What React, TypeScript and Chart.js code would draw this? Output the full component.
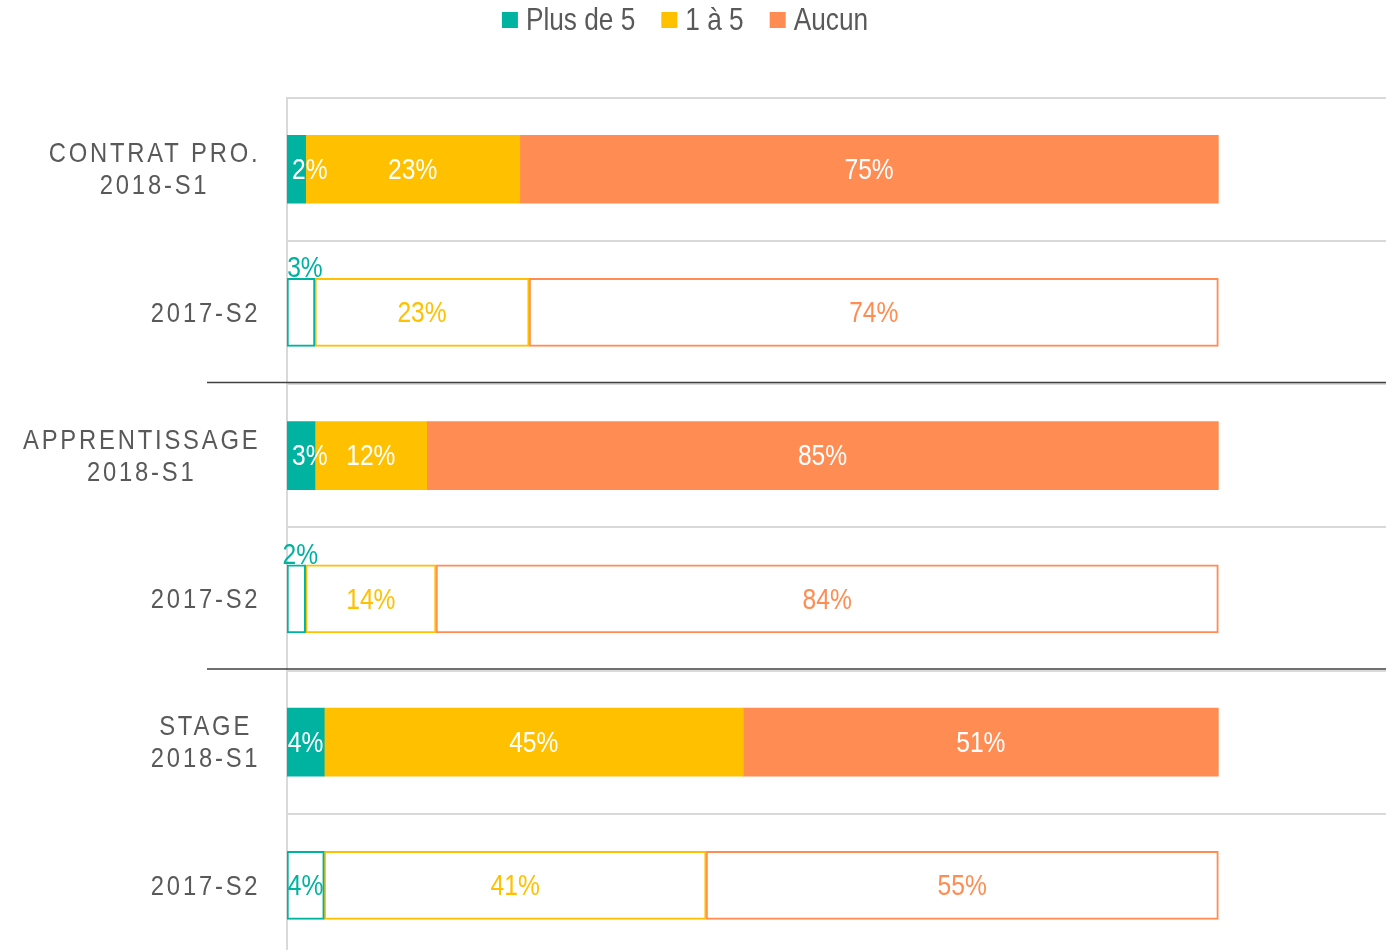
import React, { useEffect, useRef } from "react";
import { Chart, registerables } from "chart.js";

Chart.register(...registerables);

// ---- data ----
const categories: string[][] = [
  ["CONTRAT PRO.", "2018-S1"],
  ["2017-S2"],
  ["APPRENTISSAGE", "2018-S1"],
  ["2017-S2"],
  ["STAGE", "2018-S1"],
  ["2017-S2"],
];
const currentPeriod = "2018-S1";
const seriesNames = ["Plus de 5", "1 à 5", "Aucun"];
const plusDe5 = [2, 3, 3, 2, 4, 4];
const unACinq = [23, 23, 12, 14, 45, 41];
const aucun = [75, 74, 85, 84, 51, 55];
const seriesColors = ["#00B2A0", "#FFC000", "#FF8C52"];

const TEXT = "#595959";
const FONT = "'Liberation Sans', Arial, sans-serif";
const SX = 0.82; // narrow rendering
const SX_AXIS = 0.85;

const filled = categories.map((c) => c[c.length - 1] === currentPeriod);

function measure(ctx: CanvasRenderingContext2D, t: string, sx = SX) {
  return ctx.measureText(t).width * sx;
}
function drawNarrow(ctx: CanvasRenderingContext2D, t: string, x: number, y: number, align: CanvasTextAlign, sx = SX) {
  ctx.save();
  ctx.translate(x, y);
  ctx.scale(sx, 1);
  ctx.textAlign = align;
  ctx.fillText(t, 0, 0);
  ctx.restore();
}

const labelsPlugin = {
  id: "segLabels",
  afterDatasetsDraw(chart: any) {
    const ctx = chart.ctx as CanvasRenderingContext2D;
    ctx.save();
    ctx.font = `30px ${FONT}`;
    chart.data.datasets.forEach((ds: any, i: number) => {
      const meta = chart.getDatasetMeta(i);
      meta.data.forEach((bar: any, j: number) => {
        const p = bar.getProps(["x", "base", "y", "height"], true);
        const left = Math.min(p.x, p.base);
        const right = Math.max(p.x, p.base);
        const w = right - left;
        const text = `${ds.data[j]}%`;
        const tw = measure(ctx, text);
        let cx = (left + right) / 2;
        if (filled[j]) {
          ctx.fillStyle = "#ffffff";
          if (tw > w + 1) cx = left + tw / 2 + 5;
          ctx.textBaseline = "middle";
          drawNarrow(ctx, text, cx, p.y + 1.5, "center");
        } else {
          ctx.fillStyle = seriesColors[i];
          if (tw > w + 4) {
            ctx.textBaseline = "alphabetic";
            drawNarrow(ctx, text, cx + 4, p.y - p.height / 2 - 1, "center");
          } else {
            ctx.textBaseline = "middle";
            drawNarrow(ctx, text, cx, p.y + 1.5, "center");
          }
        }
      });
    });
    ctx.restore();
  },
};

const decorPlugin = {
  id: "decor",
  afterDraw(chart: any) {
    const ctx = chart.ctx as CanvasRenderingContext2D;
    const area = chart.chartArea;
    const y = chart.scales.y;
    ctx.save();
    // group separators
    ctx.strokeStyle = "#404040";
    ctx.lineWidth = 1.5;
    [1, 3].forEach((i) => {
      const yy = (y.getPixelForValue(i) + y.getPixelForValue(i + 1)) / 2 - 1.5;
      ctx.beginPath();
      ctx.moveTo(207, yy);
      ctx.lineTo(area.right, yy);
      ctx.stroke();
    });
    // category labels
    ctx.font = `28px ${FONT}`;
    (ctx as any).letterSpacing = `${2.8 / SX_AXIS}px`;
    ctx.fillStyle = TEXT;
    ctx.textBaseline = "middle";
    categories.forEach((lines, i) => {
      const yc = y.getPixelForValue(i);
      const maxW = Math.max(...lines.map((l) => measure(ctx, l, SX_AXIS)));
      const cx = 259 - maxW / 2;
      lines.forEach((l, k) => {
        drawNarrow(ctx, l, cx + 1.4, yc + 1.5 + (k - (lines.length - 1) / 2) * 32, "center", SX_AXIS);
      });
    });
    (ctx as any).letterSpacing = "0px";
    // legend
    ctx.font = `32px ${FONT}`;
    const box = 16;
    const gap = 8;
    const itemGap = 26;
    const widths = chart.data.datasets.map((d: any) => measure(ctx, d.label));
    const total = widths.reduce((a: number, b: number) => a + b + box + gap, 0) + itemGap * (widths.length - 1);
    let x = 685 - total / 2;
    chart.data.datasets.forEach((d: any, i: number) => {
      ctx.fillStyle = seriesColors[i];
      ctx.fillRect(x, 12, box, box);
      ctx.fillStyle = TEXT;
      drawNarrow(ctx, d.label, x + box + gap, 21, "left");
      x += box + gap + widths[i] + itemGap;
    });
    ctx.restore();
  },
};

export default function App() {
  const ref = useRef<HTMLCanvasElement>(null);
  useEffect(() => {
    document.body.style.margin = "0";
    const values = [plusDe5, unACinq, aucun];
    const chart = new Chart(ref.current as HTMLCanvasElement, {
      type: "bar",
      data: {
        labels: categories.map((c) => c.join(" ")),
        datasets: seriesNames.map((name, i) => ({
          label: name,
          data: values[i],
          backgroundColor: filled.map((f) => (f ? seriesColors[i] : "#ffffff")),
          borderColor: seriesColors[i],
          borderWidth: filled.map((f) => (f ? 0 : 2)),
          borderSkipped: false,
          barThickness: 68,
        })),
      },
      options: {
        indexAxis: "y",
        animation: false,
        responsive: false,
        layout: { padding: { top: 97.6, left: 0, right: 0, bottom: 0 } },
        scales: {
          x: { stacked: true, min: 0, max: 118, display: false },
          y: {
            stacked: true,
            grid: { color: "#d9d9d9", lineWidth: 2, drawTicks: false, offset: true },
            border: { display: true, color: "#d9d9d9", width: 2 },
            ticks: { display: false },
            afterFit: (s: any) => {
              s.width = 287;
            },
          },
        },
        plugins: { legend: { display: false }, tooltip: { enabled: false } },
      } as any,
      plugins: [labelsPlugin, decorPlugin],
    });
    return () => chart.destroy();
  }, []);
  return (
    <div style={{ width: 1386, height: 950, overflow: "hidden", background: "#fff" }}>
      <canvas ref={ref} width={1386} height={957} style={{ display: "block" }} />
    </div>
  );
}
